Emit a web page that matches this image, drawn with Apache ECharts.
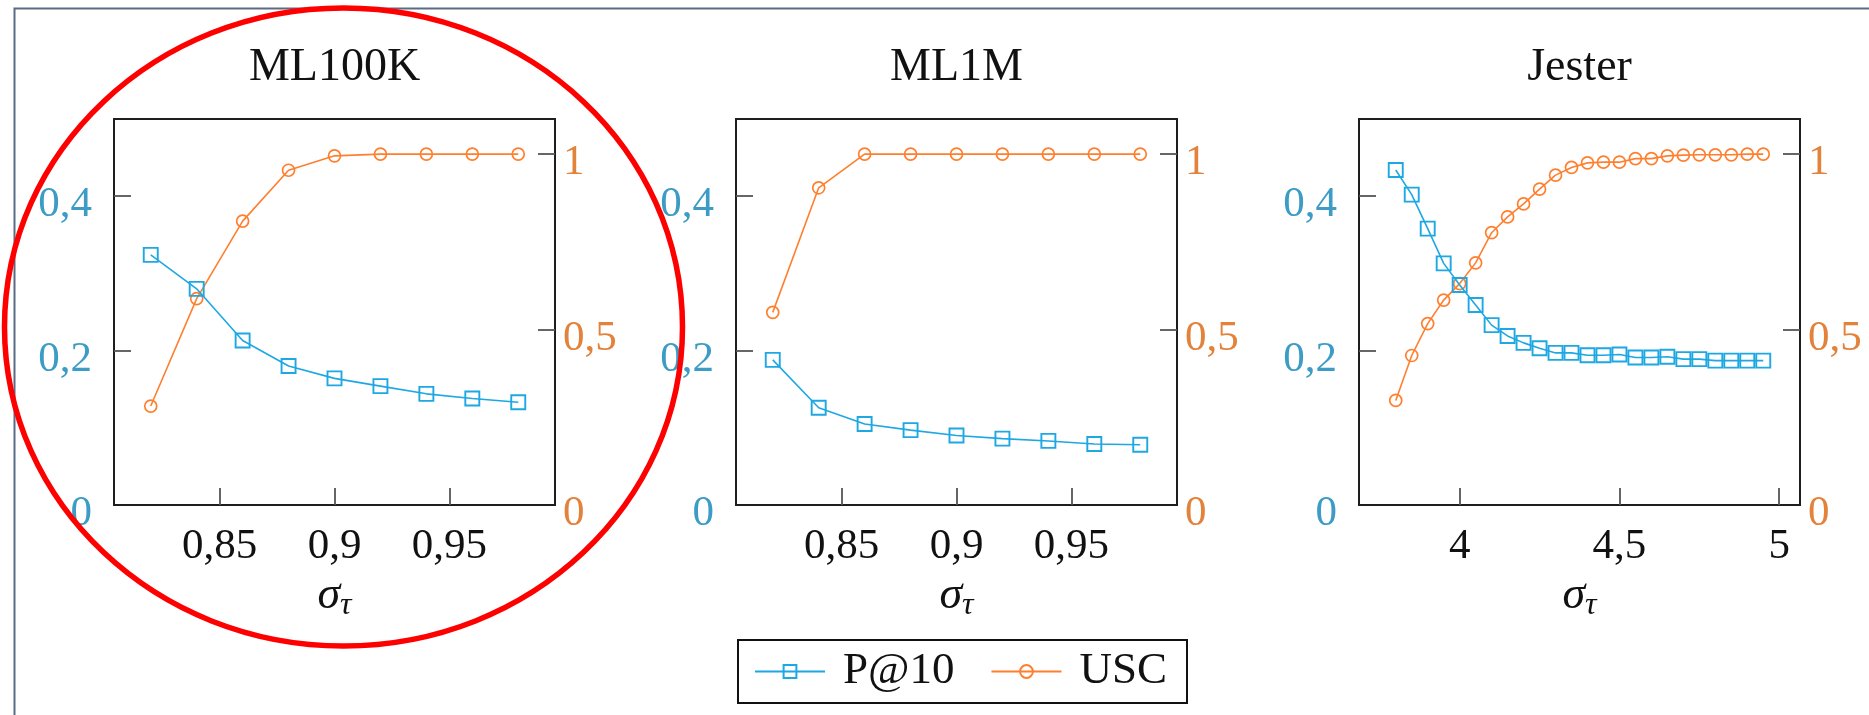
<!DOCTYPE html>
<html>
<head>
<meta charset="utf-8">
<script src="https://cdn.jsdelivr.net/npm/echarts@6/dist/echarts.min.js"></script>
<style>
html,body{margin:0;padding:0;background:#fff;}
#c{width:1869px;height:715px;}
</style>
</head>
<body>
<div id="c"></div>
<script>
// ---------- data ----------
const panelTitles = ['ML100K', 'ML1M', 'Jester'];
const sigmaML = [0.82, 0.84, 0.86, 0.88, 0.90, 0.92, 0.94, 0.96, 0.98];
const sigmaJester = [3.80, 3.85, 3.90, 3.95, 4.00, 4.05, 4.10, 4.15, 4.20, 4.25, 4.30, 4.35,
                     4.40, 4.45, 4.50, 4.55, 4.60, 4.65, 4.70, 4.75, 4.80, 4.85, 4.90, 4.95];

const ml100kP   = [0.324, 0.280, 0.213, 0.180, 0.164, 0.154, 0.144, 0.138, 0.133];
const ml100kUSC = [0.282, 0.588, 0.809, 0.954, 0.995, 1.0, 1.0, 1.0, 1.0];

const ml1mP   = [0.188, 0.126, 0.105, 0.097, 0.090, 0.086, 0.083, 0.079, 0.078];
const ml1mUSC = [0.549, 0.904, 1.0, 1.0, 1.0, 1.0, 1.0, 1.0, 1.0];

const jesterP   = [0.434, 0.402, 0.358, 0.313, 0.285, 0.259, 0.233, 0.219, 0.210, 0.203, 0.197, 0.197,
                   0.194, 0.194, 0.195, 0.191, 0.191, 0.192, 0.189, 0.189, 0.187, 0.187, 0.187, 0.187];
const jesterUSC = [0.298, 0.426, 0.517, 0.584, 0.631, 0.690, 0.776, 0.821, 0.858, 0.900, 0.940, 0.962,
                   0.975, 0.977, 0.977, 0.987, 0.987, 0.995, 0.997, 0.998, 0.998, 0.998, 1.0, 1.0];

const xTicksML = [0.85, 0.9, 0.95];
const xTicksJester = [4, 4.5, 5];
const xRangeML = [0.804, 0.996];
const xRangeJester = [3.685, 5.065];
const leftTicks = [0.2, 0.4];
const leftLabels = [0, 0.2, 0.4];
const leftRange = [0, 0.5];
const rightTicks = [0.5, 1];
const rightLabels = [0, 0.5, 1];
const rightRange = [0, 1.1];

const seriesNames = ['P@10', 'USC'];
// ---------- styling ----------
const BLUE = '#1da8e4', ORANGE = '#ff7f2e';
const BLUE_LBL = '#3d9cc6', ORANGE_LBL = '#e3823b';
const SERIF = '"Liberation Serif", "DejaVu Serif", serif';
const gridLefts = [114, 736, 1359];
const GW = 441, GT = 119, GH = 386;

const panels = [
  {x: sigmaML, p: ml100kP, u: ml100kUSC, ticks: xTicksML, range: xRangeML},
  {x: sigmaML, p: ml1mP, u: ml1mUSC, ticks: xTicksML, range: xRangeML},
  {x: sigmaJester, p: jesterP, u: jesterUSC, ticks: xTicksJester, range: xRangeJester}
];
const fmt = v => String(v).replace('.', ',');
const fmtShift = v => '{v|' + fmt(v) + '}';
const zip = (a, b) => a.map((v, i) => [v, b[i]]);
const tickStyle = {color: '#555', width: 1.8};

const grid = [], xAxis = [], yAxis = [], series = [], title = [];
panels.forEach((pn, i) => {
  grid.push({left: gridLefts[i], top: GT, width: GW, height: GH, show: true,
    borderColor: '#1e1e1e', borderWidth: 2, backgroundColor: 'transparent'});
  title.push({text: panelTitles[i], left: gridLefts[i] + GW / 2, top: 45, textAlign: 'center', padding: 0,
    textStyle: {fontFamily: SERIF, fontSize: 46, fontWeight: 'normal', color: '#111'}});
  xAxis.push({type: 'value', gridIndex: i, min: pn.range[0], max: pn.range[1],
    axisLine: {show: false}, splitLine: {show: false},
    axisTick: {inside: true, length: 17, customValues: pn.ticks, lineStyle: tickStyle},
    axisLabel: {customValues: pn.ticks, formatter: fmt, margin: 20, color: '#111',
      fontFamily: SERIF, fontSize: 43},
    name: '{s|σ}{t|τ}', nameLocation: 'middle', nameGap: 56,
    nameTextStyle: {rich: {
      s: {fontFamily: SERIF, fontStyle: 'italic', fontSize: 46, color: '#111'},
      t: {fontFamily: SERIF, fontStyle: 'italic', fontSize: 32, color: '#111', padding: [20, 0, 0, 0]}
    }}
  });
  yAxis.push({type: 'value', gridIndex: i, position: 'left', min: leftRange[0], max: leftRange[1],
    axisLine: {show: false}, splitLine: {show: false},
    axisTick: {inside: true, length: 17, customValues: leftTicks, lineStyle: tickStyle},
    axisLabel: {customValues: leftLabels, formatter: fmtShift, margin: 22,
      rich: {v: {color: BLUE_LBL, fontFamily: SERIF, fontSize: 43, padding: [18, 0, 0, 0]}}}
  });
  yAxis.push({type: 'value', gridIndex: i, position: 'right', min: rightRange[0], max: rightRange[1],
    axisLine: {show: false}, splitLine: {show: false},
    axisTick: {inside: true, length: 17, customValues: rightTicks, lineStyle: tickStyle},
    axisLabel: {customValues: rightLabels, formatter: fmtShift, margin: 8,
      rich: {v: {color: ORANGE_LBL, fontFamily: SERIF, fontSize: 43, padding: [18, 0, 0, 0]}}}
  });
  series.push({name: seriesNames[0], type: 'line', xAxisIndex: i, yAxisIndex: 2 * i,
    data: zip(pn.x, pn.p), symbol: 'rect', symbolSize: 14, animation: false,
    lineStyle: {color: BLUE, width: 1.6},
    itemStyle: {color: 'rgba(255,255,255,0)', borderColor: BLUE, borderWidth: 1.9}, z: 3});
  series.push({name: seriesNames[1], type: 'line', xAxisIndex: i, yAxisIndex: 2 * i + 1,
    data: zip(pn.x, pn.u), symbol: 'circle', symbolSize: 12, animation: false,
    lineStyle: {color: ORANGE, width: 1.6},
    itemStyle: {color: 'rgba(255,255,255,0)', borderColor: ORANGE, borderWidth: 1.7}, z: 2});
});

const chart = echarts.init(document.getElementById('c'), null, {renderer: 'canvas'});
chart.setOption({
  animation: false,
  backgroundColor: '#fff',
  title, grid, xAxis, yAxis, series,
  legend: {
    data: seriesNames, left: 738, top: 640, orient: 'horizontal',
    borderColor: '#111', borderWidth: 2, borderRadius: 0,
    padding: [9, 20, 9, 16], itemWidth: 70, itemHeight: 16, itemGap: 36,
    selectedMode: false,
    textStyle: {fontFamily: SERIF, fontSize: 45, color: '#111', padding: [0, 0, 0, 13]}
  },
  graphic: [
    {type: 'rect', left: 12, top: 6, silent: true, z: 0,
      shape: {width: 1900, height: 800},
      style: {fill: 'none', stroke: '#5b6b84', lineWidth: 2}},
    {type: 'ellipse', silent: true, z: 100,
      shape: {cx: 343.5, cy: 327, rx: 339, ry: 319},
      style: {fill: 'none', stroke: '#ff0000', lineWidth: 5.5}}
  ]
});
</script>
</body>
</html>
